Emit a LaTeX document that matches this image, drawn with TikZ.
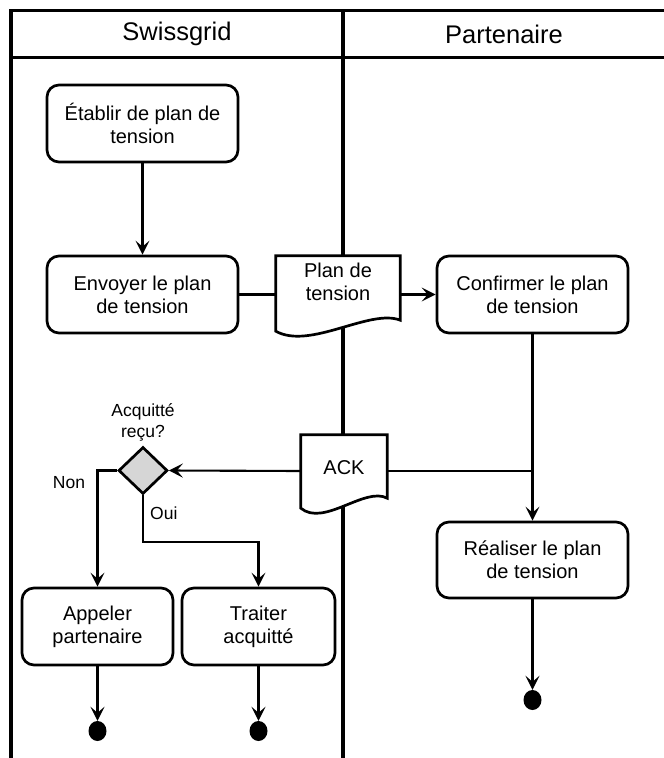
\documentclass[tikz,border=0pt]{standalone}
\usepackage{fontspec}
\setmainfont{Liberation Sans}
\usetikzlibrary{shapes.geometric,arrows.meta}
\newcommand{\boxfont}{\fontsize{20}{23}\selectfont}
\newcommand{\headfont}{\fontsize{25.5}{30}\selectfont}
\newcommand{\smallfont}{\fontsize{17.5}{21}\selectfont}
\definecolor{decgray}{HTML}{D6D6D6}
\tikzset{
  frame/.style={line width=3.5pt},
  act/.style={draw, line width=2.7pt, rounded corners=12pt, minimum width=191pt,
    minimum height=77pt, align=center, font=\boxfont, inner sep=0pt, fill=white},
  docbox/.style={draw=none, inner sep=0pt},
  docline/.style={line width=2.7pt, fill=white, line join=miter},
  doctext/.style={align=center, font=\boxfont, inner sep=0pt},
  head/.style={font=\headfont, inner sep=0pt},
  lbl/.style={font=\smallfont, align=center, inner sep=0pt},
  decision/.style={diamond, draw, line width=2.7pt, fill=decgray, minimum width=49pt,
    minimum height=47pt, inner sep=0pt},
  endpt/.style={ellipse, fill=black, draw=none, minimum width=18pt, minimum height=20pt, inner sep=0pt},
  conn/.style={line width=2.1pt},
  arr/.style={conn, -{Stealth[length=14pt, width=14pt, inset=6pt]}}
}
\begin{document}
\begin{tikzpicture}[x=1pt, y=-1pt]
\useasboundingbox (0,0) rectangle (664,758);
% frame
\draw[frame] (11,758) -- (11,10.5) -- (664,10.5);
\draw[frame] (11,57.5) -- (664,57.5);
\draw[frame] (343,10.5) -- (343,758);
\node[head] (h1) at (177,34) {Swissgrid};
\node[head] (h2) at (504,34) {Partenaire};

% activities
\node[act] (a1) at (142.5,123.5) {Établir de plan de\\tension};
\node[act] (a2) at (142.5,294.5) {Envoyer le plan\\de tension};
\node[act] (a3) at (532.5,294.5) {Confirmer le plan\\de tension};
\node[act, minimum height=76pt] (a4) at (532.5,560) {Réaliser le plan\\de tension};
\node[act, minimum width=151pt] (a5) at (97.5,626.5) {Appeler\\partenaire};
\node[act, minimum width=153pt] (a6) at (258.5,626.5) {Traiter\\acquitté};

% document: plan de tension
\node[docbox, minimum width=124pt, minimum height=77pt] (plan) at (338,294.5) {};
\draw[docline] ([yshift=2pt]plan.south west) -- (plan.north west) -- (plan.north east)
  -- ([yshift=13pt]plan.south east)
  .. controls ([xshift=-30pt,yshift=25pt]plan.south east) and ([xshift=34pt,yshift=-17pt]plan.south west)
  .. ([yshift=2pt]plan.south west) -- cycle;
\node[doctext] (plantxt) at (338,282) {Plan de\\tension};

% document: ACK
\node[docbox, minimum width=86pt, minimum height=72pt] (ack) at (344,471) {};
\draw[docline] ([yshift=-1pt]ack.south west) -- (ack.north west) -- (ack.north east)
  -- ([yshift=9pt]ack.south east)
  .. controls ([xshift=-22pt,yshift=21pt]ack.south east) and ([xshift=23pt,yshift=-20pt]ack.south west)
  .. ([yshift=-1pt]ack.south west) -- cycle;
\node[doctext] (acktxt) at (344,468) {ACK};

% decision
\node[decision] (d) at (143,470.5) {};
\node[lbl] (q) at (143,422) {Acquitté\\reçu?};
\node[lbl] (non) at (69,483) {Non};
\node[lbl, anchor=west] (oui) at (150,513) {Oui};

% end points
\node[endpt] (e1) at (97.5,731) {};
\node[endpt] (e2) at (258.5,731) {};
\node[endpt] (e3) at (532.5,700) {};

% connectors
\draw[arr] (a1.south) -- (a2.north);
\draw[conn] (a2.east) -- (plan.west);
\draw[arr] (plan.east) -- (a3.west);
\draw[arr] (a3.south) -- (a4.north);
\coordinate (br) at (a3.south |- ack.east);
\draw[conn] (br) -- (ack.east);
\draw[arr] (ack.west) -- (d.east);
\draw[arr] (d.west) -| (a5.north);
\coordinate (ouiturn) at (143,542);
\draw[arr] (d.south) -- (ouiturn) -| (a6.north);
\draw[arr] (a5.south) -- (e1.north);
\draw[arr] (a6.south) -- (e2.north);
\draw[arr] (a4.south) -- (e3.north);
\end{tikzpicture}
\end{document}
